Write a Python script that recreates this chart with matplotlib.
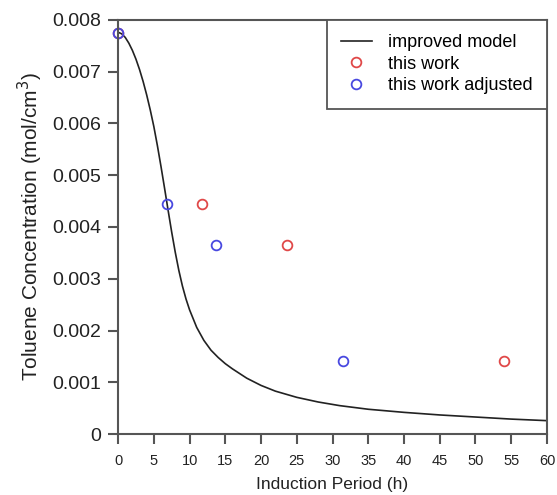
import matplotlib.pyplot as plt

plt.rcParams['font.family'] = ['Liberation Sans', 'DejaVu Sans']

# model curve (induction period vs toluene concentration)
model_t = [0, 0.5, 1, 1.5, 2, 2.5, 3, 3.5, 4, 4.5, 5, 5.5, 6, 6.5, 7, 7.5, 8, 8.5,
           9, 9.5, 10, 11, 12, 13, 14, 15, 16, 17, 18, 20, 22, 25, 28, 31, 35,
           40, 45, 50, 55, 60]
model_c = [0.00776, 0.00773, 0.00766, 0.00755, 0.00741, 0.00724, 0.00704, 0.00681,
           0.00655, 0.00626, 0.00594, 0.00557, 0.00517, 0.00475, 0.00432, 0.00390,
           0.00351, 0.00316, 0.00286, 0.00261, 0.00240, 0.00206, 0.00181, 0.00162,
           0.00148, 0.00136, 0.00126, 0.00117, 0.00108, 0.00094, 0.00083, 0.00071,
           0.00062, 0.00055, 0.00048, 0.00042, 0.00037, 0.00033, 0.00029, 0.00026]

# measured points
work_t = [0, 11.7, 23.6, 54.0]
work_c = [0.00774, 0.00444, 0.00365, 0.00141]
adj_t = [0, 6.85, 13.7, 31.5]
adj_c = [0.00774, 0.00444, 0.00365, 0.00141]

x_ticks = list(range(0, 61, 5))
y_ticks = [0, 0.001, 0.002, 0.003, 0.004, 0.005, 0.006, 0.007, 0.008]
y_labels = ['0', '0.001', '0.002', '0.003', '0.004', '0.005', '0.006', '0.007', '0.008']

fig = plt.figure(figsize=(5.57, 4.95), dpi=100)
ax = fig.add_axes([0.212, 0.123, 0.770, 0.837])

ax.plot(model_t, model_c, color='#222222', lw=1.2, label='improved model')
ax.plot(work_t, work_c, 'o', mfc='none', mec='#e04848', mew=1.3, ms=7,
        label='this work', clip_on=False)
ax.plot(adj_t, adj_c, 'o', mfc='none', mec='#4848e0', mew=1.3, ms=7,
        label='this work adjusted', clip_on=False)

ax.set_xlim(0, 60)
ax.set_ylim(0, 0.008)
ax.set_xticks(x_ticks)
ax.set_xticklabels([str(t) for t in x_ticks], fontsize=10.5)
ax.set_yticks(y_ticks)
ax.set_yticklabels(y_labels, fontsize=14)

for s in ax.spines.values():
    s.set_color('#555555')
    s.set_linewidth(1.5)
ax.tick_params(axis='both', direction='out', length=7, width=1.5, color='#555555',
               labelcolor='#222222')
ax.tick_params(axis='x', pad=7)
ax.tick_params(axis='y', pad=5)

ax.set_xlabel('Induction Period (h)', fontsize=12.5, color='#222222', labelpad=7)
ax.set_ylabel('Toluene Concentration (mol/cm$^3$)', fontsize=15, color='#222222',
              labelpad=5)

leg = ax.legend(loc='upper right', borderaxespad=0, fontsize=13, fancybox=False,
                handlelength=1.7, handletextpad=0.9, borderpad=0.8,
                labelspacing=0.25, framealpha=1)
leg.get_frame().set_edgecolor('#555555')
leg.get_frame().set_linewidth(1.3)

fig.savefig('out.png', dpi=100)
